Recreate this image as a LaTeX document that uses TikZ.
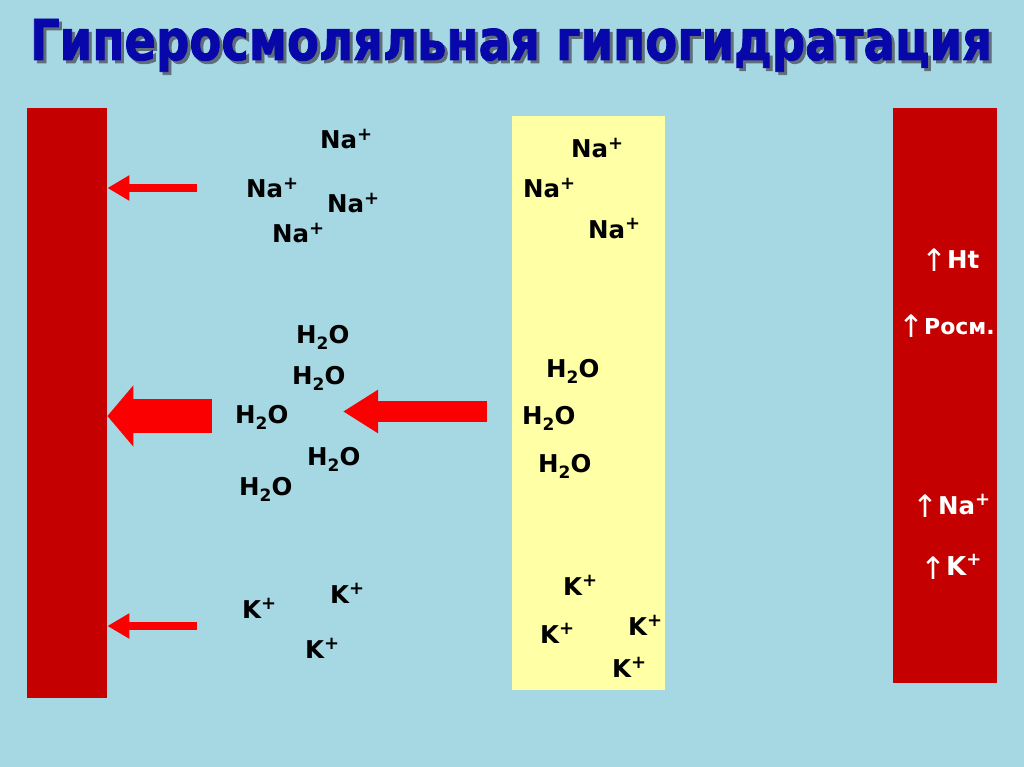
\documentclass[tikz,border=0pt]{standalone}
\usepackage{fontspec}
\setmainfont{DejaVu Sans}
\newfontfamily\titlefont{DejaVu Sans Bold}[FakeBold=1.6]
\usetikzlibrary{arrows.meta}
\definecolor{bgblue}{RGB}{166,216,228}
\definecolor{barred}{RGB}{196,0,0}
\definecolor{arrred}{RGB}{250,0,0}
\definecolor{paleyellow}{RGB}{255,255,165}
\definecolor{titleblue}{RGB}{8,8,170}
\definecolor{shadowgray}{RGB}{95,110,120}
\newcommand{\pl}{\raisebox{0.36em}{\fontsize{18}{18}\selectfont +}}
\newcommand{\hto}{H\raisebox{-0.27em}{\fontsize{17}{17}\selectfont 2}O}
\newcommand{\upar}{\raisebox{-0.16em}{\mdseries\fontsize{31}{31}\selectfont ↑}}
\newcommand{\titletext}{\resizebox{962pt}{41pt}{\titlefont Гиперосмоляльная гипогидратация}}
\tikzset{
  ion/.style={anchor=base west, inner sep=0pt, font=\fontsize{24.5}{24.5}\selectfont\bfseries, text=black},
  wion/.style={ion, text=white},
  barbox/.style={anchor=north west, fill=barred, draw=none, inner sep=0pt},
  ybox/.style={anchor=north west, fill=paleyellow, draw=none, inner sep=0pt},
  thinarrow/.style={draw=arrred, line width=8pt, -{Triangle[length=22pt,width=24pt]}},
  bigarrow/.style={draw=arrred, line width=34pt, -{Triangle[length=26pt,width=60pt]}},
  midarrow/.style={draw=arrred, line width=21pt, -{Triangle[length=35pt,width=41pt]}},
}
\begin{document}
\begin{tikzpicture}[x=1pt,y=-1pt]
\fill[bgblue] (0,0) rectangle (1024,767);
\useasboundingbox (0,0) rectangle (1024,767);
% title
\node[anchor=base, inner sep=0pt, text=shadowgray] (titleshadow) at (514,63) {\titletext};
\node[anchor=base, inner sep=0pt, text=titleblue] (title) at (511,60) {\titletext};
% boxes
\node[barbox, minimum width=80pt, minimum height=590pt] (lbar) at (27,108) {};
\node[barbox, minimum width=104pt, minimum height=575pt] (rbar) at (893,108) {};
\node[ybox, minimum width=153pt, minimum height=574pt] (ybar) at (512,116) {};
% arrows
\coordinate (a1) at (197,188);
\coordinate (a2) at (197,626);
\coordinate (a3) at (212,416);
\coordinate (a4) at (487,411.5);
\coordinate (a4tip) at (343,411.5);
\draw[thinarrow] (a1) -- (a1 -| lbar.east);
\draw[thinarrow] (a2) -- (a2 -| lbar.east);
\draw[bigarrow] (a3) -- (a3 -| lbar.east);
\draw[midarrow] (a4) -- (a4tip);
% left Na+
\node[ion] (na1) at (320,149) {Na\pl};
\node[ion] (na2) at (246,198) {Na\pl};
\node[ion] (na3) at (327,213) {Na\pl};
\node[ion] (na4) at (272,243) {Na\pl};
% yellow Na+
\node[ion] (na5) at (571,158) {Na\pl};
\node[ion] (na6) at (523,198) {Na\pl};
\node[ion] (na7) at (588,238) {Na\pl};
% left H2O
\node[ion] (w1) at (296,343) {\hto};
\node[ion] (w2) at (292,384) {\hto};
\node[ion] (w3) at (235,423) {\hto};
\node[ion] (w4) at (307,465) {\hto};
\node[ion] (w5) at (239,495) {\hto};
% yellow H2O
\node[ion] (w6) at (546,377) {\hto};
\node[ion] (w7) at (522,424) {\hto};
\node[ion] (w8) at (538,472) {\hto};
% left K+
\node[ion] (k1) at (242,618) {K\pl};
\node[ion] (k2) at (330,603) {K\pl};
\node[ion] (k3) at (305,658) {K\pl};
% yellow K+
\node[ion] (k4) at (563,595) {K\pl};
\node[ion] (k5) at (540,643) {K\pl};
\node[ion] (k6) at (628,635) {K\pl};
\node[ion] (k7) at (612,677) {K\pl};
% right bar labels
\node[wion] (r1) at (921,268) {\upar Ht};
\node[wion, font=\fontsize{22}{22}\selectfont\bfseries] (r2) at (898,334) {\upar Росм.};
\node[wion] (r3) at (912,514) {\upar Na\pl};
\node[wion, font=\fontsize{26}{26}\selectfont\bfseries] (r4) at (920,575) {\upar K\pl};
\end{tikzpicture}
\end{document}
